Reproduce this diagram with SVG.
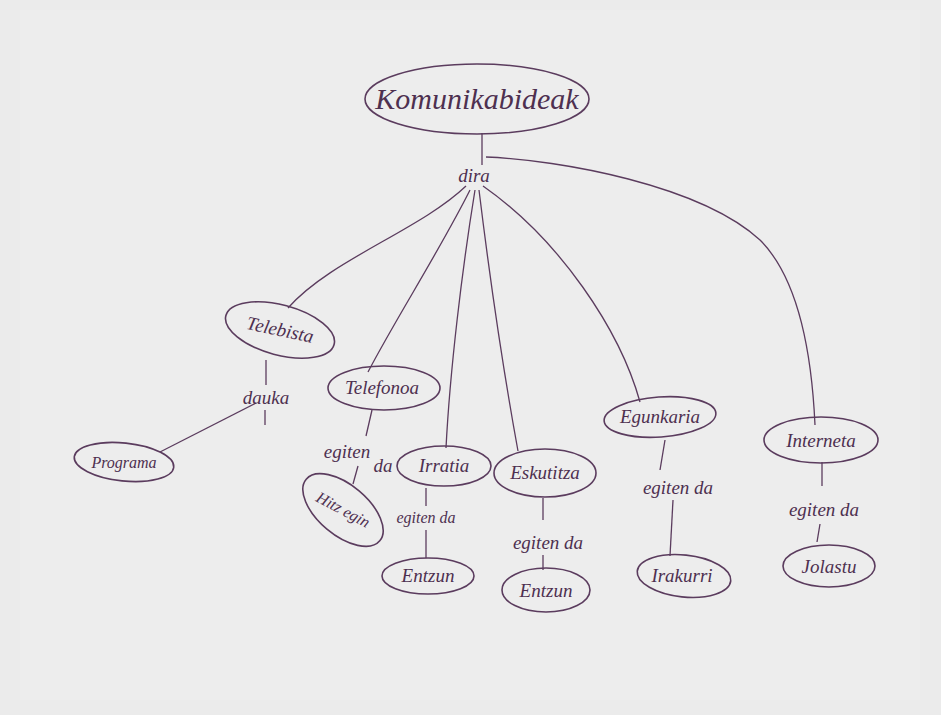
<svg xmlns="http://www.w3.org/2000/svg" width="941" height="715" viewBox="0 0 941 715">
<style>
.n{fill:none;stroke:#5b3c5e;stroke-width:1.6}
.c{fill:none;stroke:#5b3c5e;stroke-width:1.3}
.t{font-family:"Liberation Serif",serif;font-style:italic;fill:#4e3050;text-anchor:middle}
.big{font-size:30px}
.m{font-size:19px}
.s{font-size:16px}
</style>
<rect width="941" height="715" fill="#ebebeb"/>
<rect x="20" y="10" width="900" height="690" fill="#ededed"/>
<g id="connectors">
<path class="c" d="M482 133 L482 165"/>
<path class="c" d="M486 157 C560 160 700 185 760 240 C800 280 812 360 815 425"/>
<path class="c" d="M466 186 C420 230 330 260 288 308"/>
<path class="c" d="M470 190 C440 250 395 320 368 372"/>
<path class="c" d="M475 190 C462 270 450 370 446 448"/>
<path class="c" d="M479 190 C490 280 505 380 518 451"/>
<path class="c" d="M483 186 C560 240 620 330 640 402"/>
<path class="c" d="M266 360 L266 385"/>
<path class="c" d="M265 410 L265 425"/>
<path class="c" d="M256 403 L160 452"/>
<path class="c" d="M372 410 L366 436"/>
<path class="c" d="M358 466 L353 484"/>
<path class="c" d="M426 488 L426 506"/>
<path class="c" d="M426 530 L426 558"/>
<path class="c" d="M543 498 L543 520"/>
<path class="c" d="M543 555 L543 570"/>
<path class="c" d="M665 440 L660 470"/>
<path class="c" d="M673 500 L670 556"/>
<path class="c" d="M822 462 L822 486"/>
<path class="c" d="M820 524 L817 542"/>
</g>
<g id="komunikabideak"><ellipse class="n" cx="477" cy="99" rx="112" ry="35"/><text class="t big" x="477" y="109">Komunikabideak</text></g>
<g id="dira"><text class="t m" x="474" y="182">dira</text></g>
<g id="telebista"><ellipse class="n" cx="280" cy="330" rx="56" ry="25" transform="rotate(15 280 330)"/><text class="t m" x="280" y="336" transform="rotate(12 280 330)">Telebista</text></g>
<g id="dauka"><text class="t m" x="266" y="404">dauka</text></g>
<g id="programa"><ellipse class="n" cx="124" cy="462" rx="50" ry="19" transform="rotate(6 124 462)"/><text class="t s" x="124" y="468">Programa</text></g>
<g id="telefonoa"><ellipse class="n" cx="384" cy="388" rx="56" ry="22"/><text class="t m" x="382" y="394">Telefonoa</text></g>
<g id="egiten1"><text class="t m" x="347" y="458">egiten</text><text class="t m" x="383" y="472">da</text></g>
<g id="hitzegin"><ellipse class="n" cx="343" cy="510" rx="48" ry="25" transform="rotate(40 343 510)"/><text class="t s" x="343" y="515" transform="rotate(28 343 510)">Hitz egin</text></g>
<g id="irratia"><ellipse class="n" cx="444" cy="466" rx="47" ry="20"/><text class="t m" x="444" y="472">Irratia</text></g>
<g id="egiten2"><text class="t s" x="426" y="523">egiten da</text></g>
<g id="entzun1"><ellipse class="n" cx="428" cy="576" rx="46" ry="18"/><text class="t m" x="428" y="582">Entzun</text></g>
<g id="eskutitza"><ellipse class="n" cx="545" cy="473" rx="51" ry="24"/><text class="t m" x="545" y="479">Eskutitza</text></g>
<g id="egiten3"><text class="t m" x="548" y="549">egiten da</text></g>
<g id="entzun2"><ellipse class="n" cx="546" cy="590" rx="44" ry="22"/><text class="t m" x="546" y="597">Entzun</text></g>
<g id="egunkaria"><ellipse class="n" cx="660" cy="417" rx="56" ry="20" transform="rotate(-4 660 417)"/><text class="t m" x="660" y="423">Egunkaria</text></g>
<g id="egiten4"><text class="t m" x="678" y="494">egiten da</text></g>
<g id="irakurri"><ellipse class="n" cx="684" cy="576" rx="47" ry="21" transform="rotate(6 684 576)"/><text class="t m" x="682" y="582">Irakurri</text></g>
<g id="interneta"><ellipse class="n" cx="821" cy="440" rx="57" ry="23"/><text class="t m" x="821" y="447">Interneta</text></g>
<g id="egiten5"><text class="t m" x="824" y="516">egiten da</text></g>
<g id="jolastu"><ellipse class="n" cx="829" cy="566" rx="46" ry="21"/><text class="t m" x="829" y="573">Jolastu</text></g>
</svg>
